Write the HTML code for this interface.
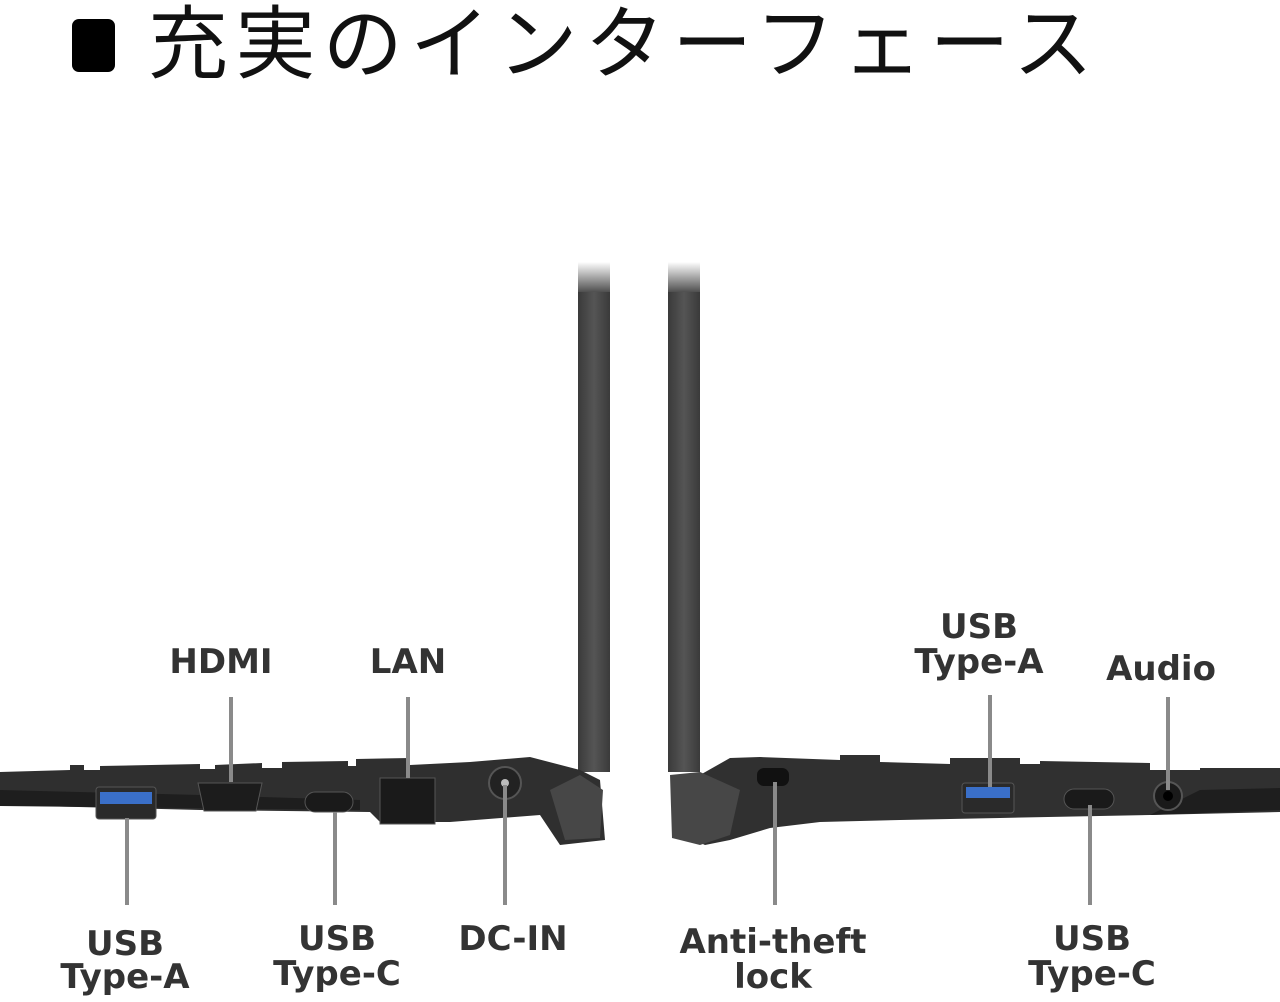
<!DOCTYPE html>
<html><head><meta charset="utf-8"><style>
html,body{margin:0;padding:0;background:#fff;width:1280px;height:1002px;overflow:hidden}
svg{display:block}
.l{font-family:"DejaVu Sans","Liberation Sans",sans-serif;font-weight:bold;font-size:34px;fill:#333;text-anchor:middle}
</style></head><body>
<svg width="1280" height="1002" viewBox="0 0 1280 1002" xmlns="http://www.w3.org/2000/svg">
<defs>
<linearGradient id="fade" x1="0" y1="0" x2="0" y2="1">
<stop offset="0" stop-color="#444" stop-opacity="0"/><stop offset="1" stop-color="#444" stop-opacity="1"/>
</linearGradient>
<linearGradient id="lid" x1="0" y1="0" x2="1" y2="0">
<stop offset="0" stop-color="#3a3a3a"/><stop offset="0.5" stop-color="#555"/><stop offset="1" stop-color="#3a3a3a"/>
</linearGradient>
</defs>
<rect x="72" y="19" width="43" height="53" rx="7" fill="#000"/>
<text x="148" y="72" font-family="'Noto Sans CJK JP',sans-serif" font-size="80" fill="#111" textLength="945" lengthAdjust="spacing">充実のインターフェース</text>

<rect x="578" y="262" width="32" height="32" fill="url(#fade)"/>
<rect x="578" y="292" width="32" height="480" fill="url(#lid)"/>
<rect x="668" y="262" width="32" height="32" fill="url(#fade)"/>
<rect x="668" y="292" width="32" height="480" fill="url(#lid)"/>

<polygon points="0,772 70,770 70,765 84,765 84,770 100,770 100,766 200,764 200,769 215,769 215,765 262,763 262,768 282,768 282,762 348,761 348,766 356,766 356,759 410,758 410,765 470,762 530,757 580,770 600,780 605,840 560,845 540,815 450,822 380,822 370,812 200,810 0,805" fill="#2f2f2f"/>
<polygon points="0,790 200,795 360,800 360,810 0,806" fill="#1e1e1e"/>
<polygon points="550,790 580,775 603,790 600,838 565,840" fill="#474747"/>
<rect x="96" y="787" width="60" height="32" rx="3" fill="#2a2a2a" stroke="#555"/>
<rect x="100" y="792" width="52" height="12" fill="#3a6fc8"/>
<path d="M198,783 h64 l-6,28 h-52 z" fill="#1c1c1c" stroke="#555"/>
<rect x="305" y="792" width="48" height="20" rx="10" fill="#1a1a1a" stroke="#555"/>
<rect x="380" y="778" width="55" height="46" fill="#1a1a1a" stroke="#555"/>
<circle cx="505" cy="783" r="16" fill="#222" stroke="#555" stroke-width="2"/>
<circle cx="505" cy="783" r="4" fill="#bbb"/>

<polygon points="700,775 730,758 760,757 840,760 840,755 880,755 880,762 950,764 950,758 1020,758 1020,764 1040,764 1040,761 1150,763 1150,770 1200,770 1200,768 1280,768 1280,812 1150,815 1000,818 900,820 820,822 770,828 730,840 705,845 690,838" fill="#303030"/>
<polygon points="1200,790 1280,788 1280,810 1150,815" fill="#1e1e1e"/>
<polygon points="670,775 700,772 740,790 730,835 700,845 672,838" fill="#474747"/>
<rect x="757" y="768" width="32" height="18" rx="7" fill="#111"/>
<rect x="962" y="783" width="52" height="30" rx="3" fill="#2a2a2a" stroke="#555"/>
<rect x="966" y="787" width="44" height="11" fill="#3a6fc8"/>
<rect x="1064" y="789" width="50" height="20" rx="10" fill="#1a1a1a" stroke="#555"/>
<circle cx="1168" cy="796" r="14" fill="#1a1a1a" stroke="#555" stroke-width="2"/>
<circle cx="1168" cy="796" r="5" fill="#000"/>

<g stroke="#8a8a8a" stroke-width="4">
<line x1="231" y1="697" x2="231" y2="782"/>
<line x1="408" y1="697" x2="408" y2="778"/>
<line x1="127" y1="818" x2="127" y2="905"/>
<line x1="335" y1="812" x2="335" y2="905"/>
<line x1="505" y1="785" x2="505" y2="905"/>
<line x1="775" y1="782" x2="775" y2="905"/>
<line x1="990" y1="695" x2="990" y2="787"/>
<line x1="1168" y1="697" x2="1168" y2="790"/>
<line x1="1090" y1="805" x2="1090" y2="905"/>
</g>

<text class="l" x="221" y="673">HDMI</text>
<text class="l" x="408" y="673">LAN</text>
<text class="l" x="979" y="638">USB</text>
<text class="l" x="979" y="673">Type-A</text>
<text class="l" x="1161" y="680">Audio</text>
<text class="l" x="125" y="955">USB</text>
<text class="l" x="125" y="988">Type-A</text>
<text class="l" x="337" y="950">USB</text>
<text class="l" x="337" y="985">Type-C</text>
<text class="l" x="513" y="950">DC-IN</text>
<text class="l" x="773" y="953">Anti-theft</text>
<text class="l" x="773" y="988">lock</text>
<text class="l" x="1092" y="950">USB</text>
<text class="l" x="1092" y="985">Type-C</text>
</svg>
</body></html>
